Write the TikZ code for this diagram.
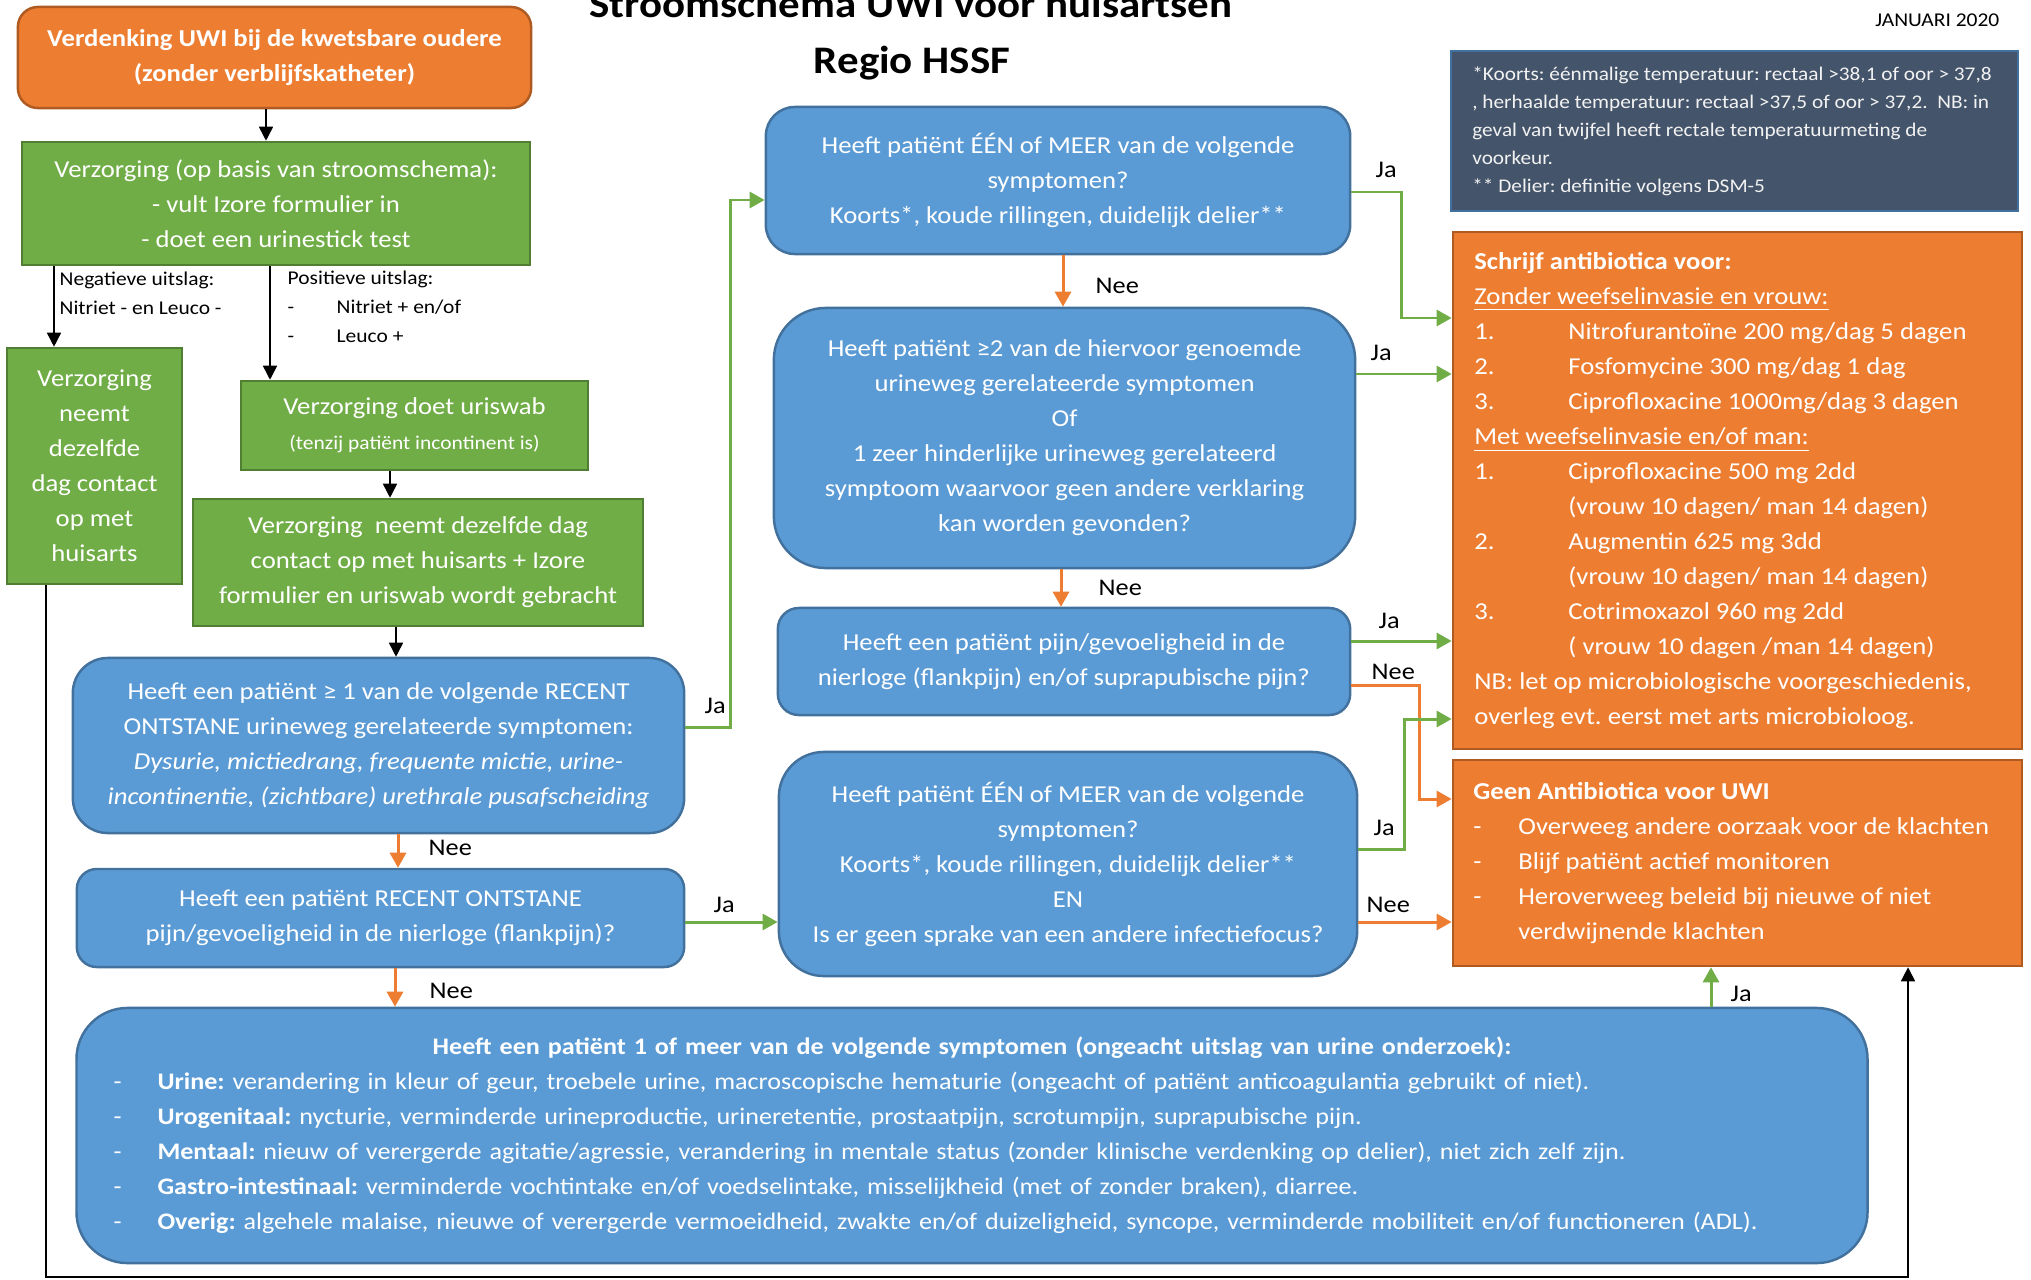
\documentclass[tikz,border=0pt]{standalone}
\usepackage{fontspec}
\setmainfont{Carlito}[FakeStretch=1.1]
\usetikzlibrary{arrows.meta}

\definecolor{uwiorange}{HTML}{ED7D31}
\definecolor{uwiorangedark}{HTML}{AE5A21}
\definecolor{uwigreen}{HTML}{70AD47}
\definecolor{uwigreendark}{HTML}{507E32}
\definecolor{uwiblue}{HTML}{5B9BD5}
\definecolor{uwibluedark}{HTML}{41719C}
\definecolor{uwislate}{HTML}{44546A}

\newcommand{\bodyfont}{\fontsize{6.9}{9.96}\selectfont}
\newcommand{\listfont}{\fontsize{6.75}{9.96}\selectfont}
\newcommand{\notefont}{\fontsize{5.5}{7.97}\selectfont}
\newcommand{\smallfont}{\fontsize{5.55}{8.3}\selectfont}
\newcommand{\lblfont}{\fontsize{6.8}{8}\selectfont}
\newcommand{\titlefont}{\fontsize{11.1}{13}\selectfont\bfseries}
\newcommand{\tabto}[2]{\makebox[#1][l]{#2}}

\tikzset{
  greenbox/.style={draw=uwigreendark, fill=uwigreen, line width=0.7pt, text=white, inner sep=0pt, align=center, font=\bodyfont},
  bluebox/.style={draw=uwibluedark, fill=uwiblue, line width=0.7pt, text=white, inner sep=0pt, align=center, font=\bodyfont},
  orbox/.style={draw=uwiorangedark, fill=uwiorange, line width=0.7pt, text=white, inner sep=0pt, align=center, font=\bodyfont},
  notebox/.style={draw=uwibluedark, fill=uwislate, line width=0.7pt, inner sep=0pt},
  boxtext/.style={anchor=west, inner sep=0pt, align=left, text=white, font=\bodyfont},
  lbl/.style={anchor=base west, inner sep=0pt, font=\lblfont},
  blk/.style={draw=black, line width=0.45pt, -{Triangle[length=0.14cm,width=0.14cm]}},
  ja/.style={draw=uwigreen, line width=0.85pt, -{Triangle[length=0.15cm,width=0.16cm]}},
  nee/.style={draw=uwiorange, line width=0.85pt, -{Triangle[length=0.15cm,width=0.16cm]}},
}

\begin{document}
\frenchspacing
\begin{tikzpicture}[x=0.01cm,y=-0.01cm]
	\fill[white] (0,0) rectangle (2031,1279);
	\useasboundingbox (0,0) rectangle (2031,1279);

	% kop
	\node[anchor=base, inner sep=0pt, font=\titlefont] (title) at (911,18) {Stroomschema UWI voor huisartsen};
	\node[anchor=base, inner sep=0pt, font=\titlefont] (regio) at (912,74) {Regio HSSF};
	\node[anchor=base east, inner sep=0pt, font=\smallfont] (datum) at (2000,27) {JANUARI 2020};

	% linker kolom
	\node[orbox, rounded corners=0.2cm, minimum width=5.13cm, minimum height=1.01cm, font=\bodyfont\bfseries] (vd) at (274.5,57.5) {Verdenking UWI bij de kwetsbare oudere\\(zonder verblijfskatheter)};
	\node[greenbox, minimum width=5.08cm, minimum height=1.23cm] (vz) at (276,203.5) {Verzorging (op basis van stroomschema):\\- vult Izore formulier in\\- doet een urinestick test};
	\node[anchor=north west, inner sep=0pt, align=left, font=\smallfont] (neglbl) at (59,271) {Negatieve uitslag:\\Nitriet - en Leuco -};
	\node[anchor=north west, inner sep=0pt, align=left, font=\smallfont] (poslbl) at (287,270) {Positieve uitslag:\\\tabto{0.49cm}{-}Nitriet + en/of\\\tabto{0.49cm}{-}Leuco +};
	\node[greenbox, minimum width=1.75cm, minimum height=2.36cm] (vneg) at (94.5,466) {Verzorging\\neemt\\dezelfde\\dag contact\\op met\\huisarts};
	\node[greenbox, minimum width=3.47cm, minimum height=0.89cm] (vuri) at (414.5,425.5) {Verzorging doet uriswab\\{\smallfont (tenzij patiënt incontinent is)}};
	\node[greenbox, minimum width=4.5cm, minimum height=1.27cm] (vcon) at (418,562.5) {Verzorging \ neemt dezelfde dag\\contact op met huisarts + Izore\\formulier en uriswab wordt gebracht};
	\node[bluebox, rounded corners=0.35cm, minimum width=6.11cm, minimum height=1.75cm] (q1) at (378.5,745.5) {Heeft een patiënt ≥ 1 van de volgende RECENT\\ONTSTANE urineweg gerelateerde symptomen:\\\textit{Dysurie, mictiedrang, frequente mictie, urine-}\\\textit{incontinentie, (zichtbare) urethrale pusafscheiding}};
	\node[bluebox, rounded corners=0.2cm, minimum width=6.07cm, minimum height=0.98cm] (q2) at (380.5,918) {Heeft een patiënt RECENT ONTSTANE\\pijn/gevoeligheid in de nierloge (flankpijn)?};

	% middelste kolom
	\node[bluebox, rounded corners=0.29cm, minimum width=5.84cm, minimum height=1.47cm] (qa) at (1058,180.5) {Heeft patiënt ÉÉN of MEER van de volgende\\symptomen?\\Koorts*, koude rillingen, duidelijk delier**};
	\node[bluebox, rounded corners=0.52cm, minimum width=5.81cm, minimum height=2.6cm] (qb) at (1064.5,438) {Heeft patiënt ≥2 van de hiervoor genoemde\\urineweg gerelateerde symptomen\\Of\\1 zeer hinderlijke urineweg gerelateerd\\symptoom waarvoor geen andere verklaring\\kan worden gevonden?};
	\node[bluebox, rounded corners=0.21cm, minimum width=5.72cm, minimum height=1.07cm] (qc) at (1064,661.5) {Heeft een patiënt pijn/gevoeligheid in de\\nierloge (flankpijn) en/of suprapubische pijn?};
	\node[bluebox, rounded corners=0.45cm, minimum width=5.78cm, minimum height=2.24cm] (qd) at (1068,864) {Heeft patiënt ÉÉN of MEER van de volgende\\symptomen?\\Koorts*, koude rillingen, duidelijk delier**\\EN\\Is er geen sprake van een andere infectiefocus?};

	% onderste vraag
	\node[bluebox, rounded corners=0.51cm, minimum width=17.9cm, minimum height=2.55cm, inner xsep=0.37cm, text width=17.16cm, align=left, font=\listfont] (qall) at (972,1135.5) {{\centering\bfseries Heeft een patiënt 1 of meer van de volgende symptomen (ongeacht uitslag van urine onderzoek):\par}\noindent
	\tabto{0.44cm}{-}\textbf{Urine:} verandering in kleur of geur, troebele urine, macroscopische hematurie (ongeacht of patiënt anticoagulantia gebruikt of niet).\\
	\tabto{0.44cm}{-}\textbf{Urogenitaal:} nycturie, verminderde urineproductie, urineretentie, prostaatpijn, scrotumpijn, suprapubische pijn.\\
	\tabto{0.44cm}{-}\textbf{Mentaal:} nieuw of verergerde agitatie/agressie, verandering in mentale status (zonder klinische verdenking op delier), niet zich zelf zijn.\\
	\tabto{0.44cm}{-}\textbf{Gastro-intestinaal:} verminderde vochtintake en/of voedselintake, misselijkheid (met of zonder braken), diarree.\\
	\tabto{0.44cm}{-}\textbf{Overig:} algehele malaise, nieuwe of verergerde vermoeidheid, zwakte en/of duizeligheid, syncope, verminderde mobiliteit en/of functioneren (ADL).};

	% rechter kolom
	\node[notebox, minimum width=5.67cm, minimum height=1.6cm] (fn) at (1734.5,131) {};
	\node[boxtext, font=\notefont, text=white!95!black] (fntext) at ([xshift=0.22cm]fn.west) {*Koorts: éénmalige temperatuur: rectaal >38,1 of oor > 37,8\\, herhaalde temperatuur: rectaal >37,5 of oor > 37,2. \ NB: in\\geval van twijfel heeft rectale temperatuurmeting de\\voorkeur.\\** Delier: definitie volgens DSM-5};
	\node[orbox, minimum width=5.69cm, minimum height=5.17cm] (ab) at (1737.5,490.5) {};
	\node[boxtext] (abtext) at ([xshift=0.22cm]ab.west) {\textbf{Schrijf antibiotica voor:}\\
	\underline{Zonder weefselinvasie en vrouw:}\\
	\tabto{0.94cm}{1.}Nitrofurantoïne 200 mg/dag 5 dagen\\
	\tabto{0.94cm}{2.}Fosfomycine 300 mg/dag 1 dag\\
	\tabto{0.94cm}{3.}Ciprofloxacine 1000mg/dag 3 dagen\\
	\underline{Met weefselinvasie en/of man:}\\
	\tabto{0.94cm}{1.}Ciprofloxacine 500 mg 2dd\\
	\tabto{0.94cm}{}(vrouw 10 dagen/ man 14 dagen)\\
	\tabto{0.94cm}{2.}Augmentin 625 mg 3dd\\
	\tabto{0.94cm}{}(vrouw 10 dagen/ man 14 dagen)\\
	\tabto{0.94cm}{3.}Cotrimoxazol 960 mg 2dd\\
	\tabto{0.94cm}{}( vrouw 10 dagen /man 14 dagen)\\
	NB: let op microbiologische voorgeschiedenis,\\
	overleg evt. eerst met arts microbioloog.};
	\node[orbox, minimum width=5.69cm, minimum height=2.06cm] (geen) at (1737.5,863) {};
	\node[boxtext] (geentext) at ([xshift=0.21cm]geen.west) {\textbf{Geen Antibiotica voor UWI}\\
	\tabto{0.45cm}{-}Overweeg andere oorzaak voor de klachten\\
	\tabto{0.45cm}{-}Blijf patiënt actief monitoren\\
	\tabto{0.45cm}{-}Heroverweeg beleid bij nieuwe of niet\\
	\tabto{0.45cm}{}verdwijnende klachten};

	% zwarte pijlen
	\draw[blk] (vd.south -| 266,0) -- (vz.north -| 266,0);
	\draw[blk] (vz.south -| 54,0) -- (vneg.north -| 54,0);
	\draw[blk] (vz.south -| 270,0) -- (vuri.north -| 270,0);
	\draw[blk] (vuri.south -| 390,0) -- (vcon.north -| 390,0);
	\draw[blk] (vcon.south -| 396,0) -- (q1.north -| 396,0);
	\draw[blk] (vneg.south -| 46,0) -- (46,1277) -- (1908,1277) -- (geen.south -| 1908,0);

	% ja / nee
	\draw[ja] (q1.east |- 0,727) -- (730,727) |- (qa.west |- 0,200);
	\draw[nee] (q1.south -| 398,0) -- (q2.north -| 398,0);
	\draw[ja] (q2.east |- 0,922) -- (qd.west |- 0,922);
	\draw[nee] (q2.south -| 395,0) -- (qall.north -| 395,0);
	\draw[ja] (qa.east |- 0,192) -- (1401,192) |- (ab.west |- 0,318);
	\draw[nee] (qa.south -| 1063,0) -- (qb.north -| 1063,0);
	\draw[ja] (qb.east |- 0,374) -- (ab.west |- 0,374);
	\draw[nee] (qb.south -| 1061,0) -- (qc.north -| 1061,0);
	\draw[ja] (qc.east |- 0,641) -- (ab.west |- 0,641);
	\draw[nee] (qc.east |- 0,685) -- (1419,685) |- (geen.west |- 0,799);
	\draw[ja] (qd.east |- 0,849) -- (1404,849) |- (ab.west |- 0,719);
	\draw[nee] (qd.east |- 0,922) -- (geen.west |- 0,922);
	\draw[ja] (qall.north -| 1711,0) -- (geen.south -| 1711,0);

	\node[lbl] (ja1) at (704,713) {Ja};
	\node[lbl] (nee1) at (428,855) {Nee};
	\node[lbl] (ja2) at (713,912) {Ja};
	\node[lbl] (nee2) at (429,998) {Nee};
	\node[lbl] (jaa) at (1375,177) {Ja};
	\node[lbl] (neea) at (1095,293) {Nee};
	\node[lbl] (jab) at (1370,360) {Ja};
	\node[lbl] (neeb) at (1098,595) {Nee};
	\node[lbl] (jac) at (1378,628) {Ja};
	\node[lbl] (neec) at (1371,679) {Nee};
	\node[lbl] (jad) at (1373,835) {Ja};
	\node[lbl] (need) at (1366,912) {Nee};
	\node[lbl] (jaall) at (1730,1001) {Ja};
\end{tikzpicture}
\end{document}
